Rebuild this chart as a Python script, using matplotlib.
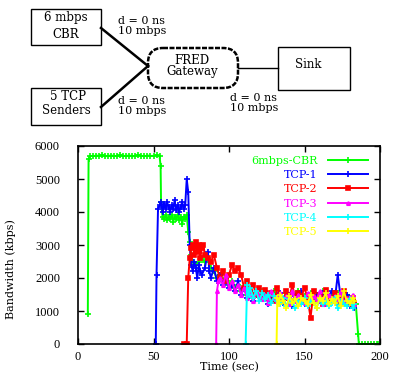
import numpy as np
import matplotlib.pyplot as plt
from matplotlib.patches import Rectangle, FancyBboxPatch

plt.rcParams['font.family'] = ['DejaVu Serif']

# --- dane ---
cbr_t = [6.5, 7, 8, 10, 12, 14, 16, 18, 20, 22, 24, 26, 28, 30, 32, 34, 36, 38, 40, 42, 44, 46, 48, 50, 52, 54,
         54.7, 55, 56, 57, 58, 59, 60, 61, 62, 63, 64, 65, 66, 67, 68, 69, 70, 71, 72, 73, 74, 75, 76, 78, 80, 82,
         84, 86, 88, 90, 92, 94, 96, 98, 100, 102, 104, 106, 108, 110, 112, 114, 116, 118, 120, 122, 124, 126,
         128, 130, 132, 134, 136, 138, 140, 142, 144, 146, 148, 150, 152, 154, 156, 158, 160, 162, 164, 166,
         168, 170, 172, 174, 176, 178, 180, 182, 184, 185.5, 186, 188, 190, 192, 194, 196, 198, 199]
cbr_v = [900, 5600, 5700, 5690, 5710, 5700, 5720, 5690, 5700, 5710, 5700, 5690, 5720, 5700, 5700, 5710, 5690, 5700,
         5720, 5700, 5690, 5710, 5700, 5700, 5720, 5700,
         5400, 4300, 3850, 3800, 3900, 3750, 3850, 3800, 3900, 3700, 3850, 3800, 3900, 3750, 3850, 3650, 3850, 3800,
         3900, 3400, 3100, 2700, 2500, 2400, 2500, 2600, 2500, 2600, 2300, 2200, 2000, 2100, 1900, 2000, 1800,
         1900, 1700, 1800, 1600, 1700, 1500, 1600, 1400, 1550, 1450, 1600, 1350, 1500, 1450, 1600, 1400, 1500,
         1350, 1550, 1450, 1300, 1500, 1600, 1400, 1450, 1300, 1550, 1400, 1500, 1350, 1600, 1450, 1400, 1500,
         1300, 1550, 1450, 1400, 1500, 1350, 1300, 1200, 300, 0, 0, 0, 0, 0, 0, 0, 0]

tcp1_t = [51.5, 52, 53, 54, 55, 56, 57, 58, 59, 60, 61, 62, 63, 64, 65, 66, 67, 68, 69, 70, 71, 72, 73, 74, 75,
          76, 77, 78, 79, 80, 81, 82, 84, 86, 87, 88, 90, 92, 94, 96, 98, 100, 102, 104, 106, 108, 110, 112, 114,
          116, 118, 120, 122, 124, 126, 128, 130, 132, 134, 136, 138, 140, 142, 144, 146, 148, 150, 152, 154, 156,
          158, 160, 162, 164, 166, 168, 170, 172, 174, 176, 178, 180, 182, 183]
tcp1_v = [0, 2100, 4100, 4200, 4300, 4000, 4250, 4100, 4300, 4150, 4000, 4200, 4100, 4350, 4050, 4200, 4000, 4150,
          4300, 4100, 4200, 5000, 4600, 3000, 2400, 2200, 2500, 2300, 2000, 2400, 2200, 2100, 2300, 2800, 2200,
          2000, 2300, 1900, 2100, 1800, 1900, 1700, 1800, 1600, 1900, 1500, 1700, 1400, 1600, 1300, 1500, 1450,
          1350, 1600, 1200, 1500, 1400, 1300, 1550, 1250, 1400, 1500, 1150, 1450, 1300, 1600, 1200, 1400, 1350,
          1250, 1500, 1300, 1550, 1200, 1450, 1600, 1300, 2100, 1400, 1250, 1500, 1150, 1300, 1100]

tcp2_t = [70, 72, 73, 74, 75, 76, 77, 78, 79, 80, 81, 82, 83, 84, 86, 88, 90, 92, 94, 96, 98, 100, 102, 104, 106,
          108, 110, 112, 114, 116, 118, 120, 122, 124, 126, 128, 130, 132, 134, 136, 138, 140, 142, 144, 146, 148,
          150, 152, 154, 156, 158, 160, 162, 164, 166, 168, 170, 172, 174, 176, 178, 180, 182, 183]
tcp2_v = [0, 0, 2000, 2600, 2900, 3000, 2700, 3100, 2800, 3000, 2600, 2900, 3000, 2700, 2600, 2500, 2700, 2300,
          2000, 2200, 1900, 2100, 2400, 2200, 2300, 2100, 1700, 1900, 1600, 1800, 1500, 1700, 1450, 1650, 1400,
          1550, 1300, 1700, 1450, 1350, 1600, 1400, 1800, 1300, 1550, 1450, 1700, 1400, 800, 1600, 1350, 1500,
          1200, 1650, 1400, 1300, 1550, 1250, 1450, 1600, 1350, 1200, 1400, 1250]

tcp3_t = [91.5, 92, 93, 94, 96, 98, 100, 102, 104, 106, 108, 110, 112, 114, 116, 118, 120, 122, 124, 126, 128,
          130, 132, 134, 136, 138, 140, 142, 144, 146, 148, 150, 152, 154, 156, 158, 160, 162, 164, 166, 168, 170,
          172, 174, 176, 178, 180, 182, 183]
tcp3_v = [0, 1600, 1900, 2000, 1800, 2100, 1700, 1900, 1600, 1800, 1500, 1700, 1400, 1550, 1300, 1600, 1450, 1350,
          1500, 1250, 1600, 1400, 1300, 1550, 1350, 1450, 1200, 1600, 1300, 1500, 1400, 1250, 1550, 1350, 1450,
          1300, 1600, 1200, 1400, 1500, 1300, 1450, 1350, 1600, 1250, 1400, 1300, 1500, 1200]

tcp4_t = [111, 112, 113, 114, 116, 118, 120, 122, 124, 126, 128, 130, 132, 134, 136, 138, 140, 142, 144, 146, 148,
          150, 152, 154, 156, 158, 160, 162, 164, 166, 168, 170, 172, 174, 176, 178, 180, 182, 183]
tcp4_v = [0, 1800, 1500, 1700, 1400, 1600, 1300, 1550, 1350, 1500, 1250, 1450, 1300, 1200, 1400, 1150, 1350, 1250,
          1100, 1300, 1200, 1400, 1150, 1300, 1250, 1100, 1350, 1200, 1300, 1150, 1250, 1400, 1100, 1300, 1200,
          1150, 1350, 1100, 1200]

tcp5_t = [131.5, 132, 133, 134, 136, 138, 140, 142, 144, 146, 148, 150, 152, 154, 156, 158, 160, 162, 164, 166,
          168, 170, 172, 174, 176, 178, 180, 182, 183]
tcp5_v = [0, 1400, 1200, 1500, 1300, 1100, 1450, 1250, 1350, 1150, 1400, 1300, 1200, 1500, 1250, 1100, 1400, 1300,
          1550, 1200, 1350, 1250, 1450, 1150, 1600, 1300, 1250, 1400, 1300]

serie = [
    ('6mbps-CBR', cbr_t, cbr_v, '#00ff00', '+', 5),
    ('TCP-1', tcp1_t, tcp1_v, '#0000ff', '+', 5),
    ('TCP-2', tcp2_t, tcp2_v, '#ff0000', 's', 3),
    ('TCP-3', tcp3_t, tcp3_v, '#ff00ff', '^', 2.5),
    ('TCP-4', tcp4_t, tcp4_v, '#00ffff', '+', 5),
    ('TCP-5', tcp5_t, tcp5_v, '#ffff00', '+', 5),
]

fig = plt.figure(figsize=(3.93, 3.76), dpi=100)

# --- schema site (souradnice v pixelech) ---
sch = fig.add_axes([0, 0, 1, 1])
sch.set_xlim(0, 393)
sch.set_ylim(376, 0)
sch.axis('off')
fs = 8.5

sch.add_patch(Rectangle((31, 9), 70, 36, fill=False, lw=1, ec='black'))
sch.add_patch(Rectangle((31, 88), 70, 37, fill=False, lw=1, ec='black'))
sch.add_patch(Rectangle((278, 47), 72, 43, fill=False, lw=1, ec='black'))
sch.add_patch(FancyBboxPatch((158, 58), 70, 20, boxstyle='round,pad=10,rounding_size=15',
                             fill=False, lw=1.8, ec='black', ls=(0, (2, 0.6))))
sch.plot([101, 148], [28, 66], color='black', lw=1.8)
sch.plot([101, 148], [107, 66], color='black', lw=1.8)
sch.plot([238, 278], [68, 68], color='black', lw=1)

sch.text(66, 18, '6 mbps', ha='center', va='center', fontsize=fs)
sch.text(66, 34, 'CBR', ha='center', va='center', fontsize=fs)
sch.text(68, 97, '5 TCP', ha='center', va='center', fontsize=fs)
sch.text(66, 111, 'Senders', ha='center', va='center', fontsize=fs)
sch.text(192, 60, 'FRED', ha='center', va='center', fontsize=fs)
sch.text(192, 72, 'Gateway', ha='center', va='center', fontsize=fs)
sch.text(308, 64, 'Sink', ha='center', va='center', fontsize=fs)
for x, y in [(118, 21), (118, 101), (230, 98)]:
    sch.text(x, y, 'd = 0 ns', ha='left', va='center', fontsize=8)
    sch.text(x, y + 10, '10 mbps', ha='left', va='center', fontsize=8)

# --- graf ---
ax = fig.add_axes([78 / 393, 1 - 344 / 376, 302 / 393, 198 / 376])
for nazev, t, v, barva, znacka, ms in serie:
    ax.plot(t, v, color=barva, lw=1.4, marker=znacka, ms=ms, mew=1.2, label=nazev)

ax.set_xlim(0, 200)
ax.set_ylim(0, 6000)
ax.set_xticks(np.arange(0, 201, 50))
ax.set_yticks(np.arange(0, 6001, 1000))
ax.tick_params(direction='in', top=True, right=True, length=4, width=1)
ax.tick_params(axis='y', pad=13)
ax.tick_params(axis='x', pad=5)
for lab in ax.get_xticklabels() + ax.get_yticklabels():
    lab.set_fontfamily('Liberation Serif')
    lab.set_fontsize(9)
for s in ax.spines.values():
    s.set_linewidth(1.2)
ax.set_xlabel('Time (sec)', fontsize=8)
ax.set_ylabel('Bandwidth (kbps)', fontsize=8)
ax.xaxis.set_label_coords(0.5, -0.09)
ax.yaxis.set_label_coords(-0.205, 0.38)

leg = ax.legend(loc='upper right', bbox_to_anchor=(0.96, 0.95), frameon=False, markerfirst=False,
                prop={'size': 8}, handlelength=3.6, handletextpad=0.9, labelspacing=0.38,
                borderpad=0, borderaxespad=0, labelcolor='linecolor')

fig.savefig('out.png', dpi=100)
